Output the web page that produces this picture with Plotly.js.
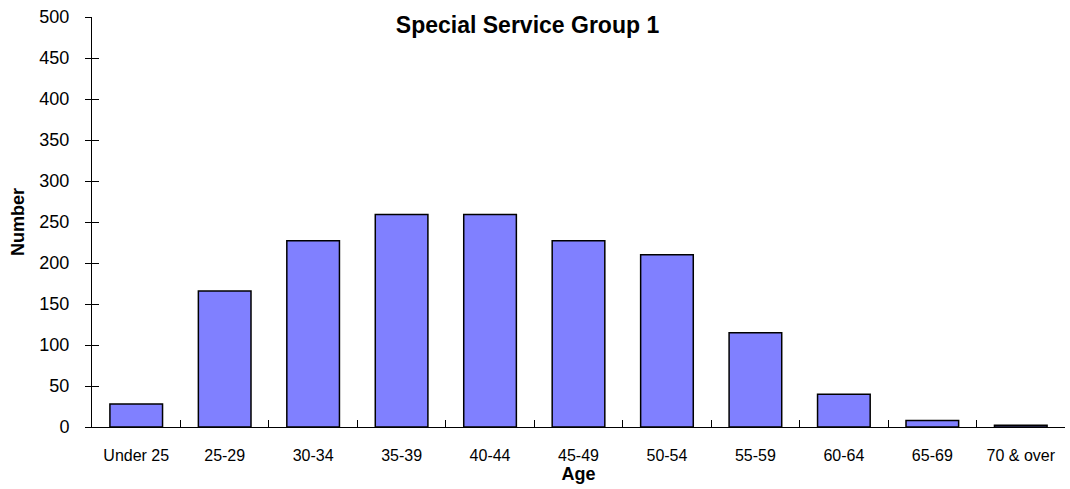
<!DOCTYPE html>
<html>
<head>
<meta charset="utf-8">
<script src="https://cdn.plot.ly/plotly-3.0.1.min.js"></script>
<style>html,body{margin:0;padding:0;background:#fff;}#chart{width:1070px;height:489px;}</style>
</head>
<body>
<div id="chart"></div>
<script>
const categories = ["Under 25", "25-29", "30-34", "35-39", "40-44", "45-49", "50-54", "55-59", "60-64", "65-69", "70 & over"];
const counts = [28, 166, 227, 259, 259, 227, 210, 115, 40, 8, 2];
const yTicks = [0, 50, 100, 150, 200, 250, 300, 350, 400, 450, 500];
const chartTitle = "Special Service Group 1";
const xTitle = "Age";
const yTitle = "Number";

const font = "Liberation Sans, Arial, sans-serif";

const traces = [{
  type: "bar",
  x: categories,
  y: counts,
  marker: {color: "#8080FF", line: {color: "#000000", width: 1.5}},
  hoverinfo: "x+y"
}, {
  type: "scatter", mode: "none", x: [categories[0]], y: [0], yaxis: "y2", hoverinfo: "skip", showlegend: false
}];

const layout = {
  width: 1070, height: 489,
  margin: {l: 92, r: 5, t: 17, b: 62},
  paper_bgcolor: "#ffffff", plot_bgcolor: "#ffffff",
  showlegend: false,
  bargap: 0.405,
  font: {family: font, color: "#000000"},
  title: {text: "<b>" + chartTitle + "</b>", font: {family: font, size: 23, color: "#000"}, x: 0.493, xanchor: "center", y: 0.948, yanchor: "middle"},
  xaxis: {
    type: "category",
    categoryarray: categories,
    showline: true, linecolor: "#000", linewidth: 1,
    ticks: "inside", ticklen: 7, tickcolor: "#000", tickwidth: 1,
    tickson: "boundaries",
    showgrid: false, zeroline: false,
    tickfont: {family: font, size: 16, color: "#000"},
    ticklabelstandoff: 14,
    title: {text: "<b>" + xTitle + "</b>", font: {family: font, size: 18, color: "#000"}, standoff: 2}
  },
  yaxis: {
    range: [0, 500], autorange: false,
    tickvals: yTicks,
    showline: true, linecolor: "#000", linewidth: 1,
    ticks: "outside", ticklen: 6, tickcolor: "#000", tickwidth: 1,
    showgrid: false, zeroline: false,
    tickfont: {family: font, size: 18, color: "#000"},
    ticklabelstandoff: 12,
    title: {text: "<b>" + yTitle + "</b>", font: {family: font, size: 18, color: "#000"}, standoff: 10}
  },
  yaxis2: {
    overlaying: "y", range: [0, 500], autorange: false,
    tickvals: yTicks, showticklabels: false,
    ticks: "inside", ticklen: 7, tickcolor: "#000", tickwidth: 1,
    showgrid: false, zeroline: false, showline: false
  }
};

Plotly.newPlot("chart", traces, layout, {displayModeBar: false, staticPlot: true});
</script>
</body>
</html>
